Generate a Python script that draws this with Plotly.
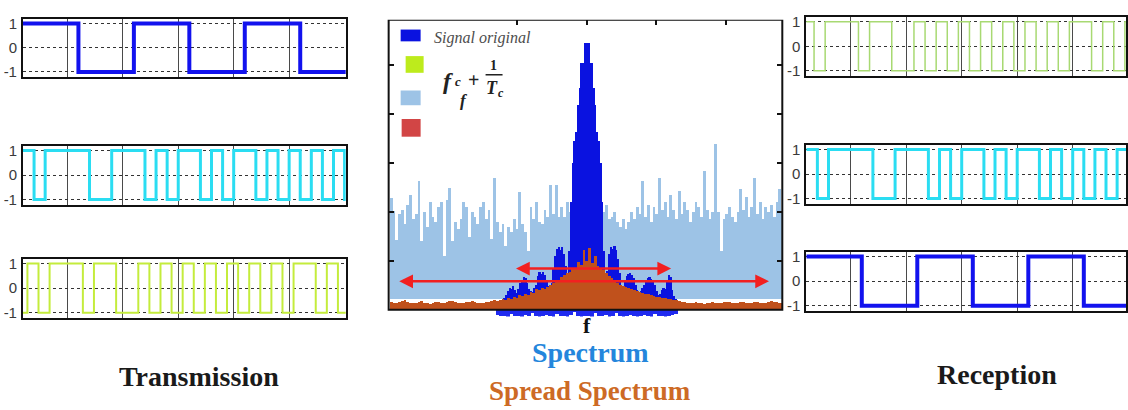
import plotly.graph_objects as go

W, H = 1128, 410

# ---------------- baseband / chip waveforms ----------------
data_bits = [1, -1, 1, -1, 1, -1]
pn_code = [1, -1, 1, 1, 1, 1, -1, -1, 1, 1, 1, -1, 1, -1, 1, 1, -1, 1, -1, 1,
           1, -1, 1, -1, 1, -1, 1, -1, 1, -1]
spread_chips = [1, -1, 1, 1, 1, -1, 1, 1, -1, -1, 1, -1, 1, -1, 1, -1, 1, -1, 1, -1,
                1, -1, 1, -1, 1, 1, -1, 1, -1, 1]
despread_bits = [1, -1, 1, -1, 1, -1]
level_ticks = [-1, 0, 1]
level_labels = ["-1", "0", "1"]
CHIPS_PER_BIT = 5
TX_DELAY = 0.4    # chip offset of the transmitted spread sequence
RX_DELAY = -0.3   # chip offset of the received spread sequence

# ---------------- spectra ----------------
# spread spectrum (light blue), bins of 0.04 starting at -2.8
spread_spec = [
    2.29, 2.03, 1.43, 1.95, 2.05, 1.75, 2.15, 2.35, 1.85, 1.95,
    2.63, 1.40, 2.00, 1.70, 2.20, 1.90, 1.80, 2.10, 2.20, 1.10,
    2.25, 2.49, 1.40, 1.80, 1.65, 1.85, 2.20, 2.10, 1.50, 2.00,
    1.90, 1.75, 2.10, 2.20, 1.85, 2.05, 1.45, 2.69, 1.80, 1.60,
    1.75, 1.30, 1.70, 1.60, 1.85, 1.65, 2.40, 1.75, 1.60, 1.20,
    2.10, 1.85, 2.20, 1.80, 1.75, 2.05, 1.90, 2.55, 1.95, 2.55,
    1.90, 2.10, 1.90, 2.20, 2.00, 1.80, 2.10, 2.00, 1.90, 2.20,
    2.00, 1.90, 2.10, 2.00, 2.30, 1.90, 2.00, 2.15, 1.85, 1.90,
    2.00, 1.80, 1.70, 1.85, 1.65, 1.80, 2.00, 1.85, 2.10, 1.95,
    2.63, 1.90, 2.15, 1.80, 2.10, 1.95, 2.70, 2.05, 2.20, 1.90,
    2.35, 2.05, 1.85, 2.43, 1.95, 2.20, 2.05, 1.80, 2.00, 2.20,
    2.10, 1.90, 2.83, 2.05, 1.85, 2.00, 3.39, 2.00, 1.20, 1.85,
    1.95, 2.10, 1.90, 1.80, 2.00, 2.47, 2.05, 2.30, 1.90, 2.10,
    2.69, 1.95, 2.20, 1.85, 2.10, 2.00, 2.15, 1.90, 2.20, 2.47, 2.00,
]
SPREAD_F0, SPREAD_DF, SPREAD_FLOOR = -2.8, 0.04, 0.22

# received mound (orange), same bins as spread_spec
mound_spec = [
    0.16, 0.15, 0.14, 0.17, 0.19, 0.20, 0.17, 0.15, 0.14, 0.15,
    0.16, 0.18, 0.15, 0.14, 0.13, 0.15, 0.17, 0.16, 0.15, 0.14,
    0.16, 0.18, 0.19, 0.17, 0.15, 0.14, 0.14, 0.16, 0.17, 0.18,
    0.16, 0.15, 0.14, 0.15, 0.17, 0.16, 0.18, 0.20, 0.19, 0.21,
    0.22, 0.21, 0.24, 0.23, 0.26, 0.25, 0.30, 0.28, 0.33, 0.31,
    0.37, 0.35, 0.42, 0.40, 0.45, 0.43, 0.47, 0.52, 0.55, 0.58,
    0.62, 0.68, 0.72, 0.75, 0.78, 0.84, 0.85, 0.98, 0.92, 1.22,
    1.00, 1.27, 0.95, 1.10, 0.90, 0.86, 0.82, 0.76, 0.70, 0.66,
    0.62, 0.56, 0.52, 0.49, 0.46, 0.44, 0.42, 0.40, 0.38, 0.36,
    0.35, 0.33, 0.32, 0.30, 0.28, 0.27, 0.26, 0.25, 0.24, 0.23,
    0.22, 0.21, 0.20, 0.18, 0.17, 0.16, 0.15, 0.14, 0.15, 0.16,
    0.15, 0.14, 0.13, 0.14, 0.15, 0.16, 0.15, 0.14, 0.15, 0.16,
    0.17, 0.16, 0.15, 0.14, 0.15, 0.17, 0.16, 0.15, 0.14, 0.15,
    0.16, 0.17, 0.15, 0.14, 0.15, 0.16, 0.18, 0.17, 0.16, 0.15, 0.14,
]

# original signal spectrum (dark blue), bins of 0.025 starting at -1.3
signal_spec = [
    0.15, 0.18, 0.16, 0.20, 0.22, 0.25, 0.30, 0.38, 0.45, 0.42, 0.48, 0.40,
    0.35, 0.42, 0.55, 0.62, 0.68, 0.66, 0.55, 0.42,
    0.38, 0.36, 0.45, 0.52, 0.70, 0.78, 0.74, 0.78, 0.72, 0.60, 0.48, 0.40,
    0.55, 0.85, 1.10, 1.25, 1.29, 1.22, 1.28, 1.15, 0.90, 0.62,
    1.20, 2.20, 3.00, 3.45, 3.63, 4.18, 4.54, 5.04, 5.04, 5.46,
    5.46,
    5.46, 5.04, 5.04, 4.54, 4.18, 3.63, 3.45, 3.00, 2.20, 1.20,
    0.58, 0.80, 1.15, 1.29, 1.25, 1.30, 1.22, 1.05, 0.75, 0.45,
    0.42, 0.58, 0.70, 0.74, 0.76, 0.72, 0.65, 0.50, 0.40, 0.36,
    0.38, 0.45, 0.50, 0.60, 0.66, 0.68, 0.64, 0.62, 0.50, 0.38,
    0.30, 0.32, 0.40, 0.45, 0.42, 0.62, 0.72, 0.68, 0.40, 0.28, 0.22, 0.18,
]
SIGNAL_F0, SIGNAL_DF = -1.3, 0.025

# ragged part of the original spectrum under the baseline, bins of 0.05
signal_under = [
    -0.10, -0.13, -0.12, -0.14, -0.09, -0.13, -0.12, -0.14, -0.11, -0.13,
    -0.06, -0.12, -0.14, -0.13, -0.10, -0.12, -0.14, -0.08, -0.13, -0.12,
    -0.14, -0.11, -0.05, -0.13, -0.14, -0.12, -0.13, -0.14, -0.07, -0.12,
    -0.13, -0.11, -0.14, -0.12, -0.06, -0.13, -0.14, -0.12, -0.10, -0.13,
    -0.14, -0.12, -0.11, -0.13, -0.14, -0.09, -0.12, -0.13, -0.14, -0.12,
    -0.10, -0.08,
]
UNDER_F0, UNDER_DF = -1.275, 0.05

# bandwidth markers: (left edge, right edge, level)
band_spread = (-2.7, 2.61, 0.58)
band_signal = (-1.03, 1.21, 0.84)


def px(x):
    return x / W


def py(y):
    return 1 - y / H


def steps(levels, width, offset=0.0, lead=None):
    xs = [offset + k * width for k in range(len(levels) + 1)]
    ys = list(levels) + [levels[-1]]
    if lead is not None:
        xs = [0.0] + xs
        ys = [lead] + ys
    return xs, ys


fig = go.Figure()

# ---------------- waveform panels ----------------
panels = [
    # (axis id, x pixel span, y pixel span, x range, waveform, colour, width)
    (1, (23, 346), (15, 74), 29.1, steps(data_bits, CHIPS_PER_BIT), "#1212EE", 4),
    (2, (23, 346), (144, 204), 29.1, steps(pn_code, 1), "#2ADDF2", 3),
    (3, (23, 346), (259, 319), 29.1, steps(spread_chips, 1, TX_DELAY, lead=-1), "#C4EC3C", 2),
    (4, (807, 1127), (13, 73), 28.8, steps(spread_chips, 1, RX_DELAY), "#A8D972", 1.5),
    (5, (807, 1127), (143, 203), 28.8, steps(pn_code, 1), "#2ADDF2", 3),
    (6, (807, 1127), (252, 312), 28.8, steps(despread_bits, CHIPS_PER_BIT), "#1212EE", 4),
]

grid_chips = [4, 9, 14, 19, 24]

for ax_id, (x0, x1), (y0, y1), xmax, (xs, ys), colour, lw in panels:
    sfx = "" if ax_id == 1 else str(ax_id)
    fig.add_trace(go.Scatter(
        x=xs, y=ys, mode="lines", line=dict(color=colour, width=lw, shape="hv"),
        xaxis="x" + sfx, yaxis="y" + sfx, hoverinfo="skip"))
    fig.layout["xaxis" + sfx] = dict(
        domain=[px(x0), px(x1)], anchor="y" + sfx, range=[0, xmax],
        tickvals=grid_chips, showticklabels=False, ticks="",
        showgrid=True, gridcolor="#4a4a4a", gridwidth=1, zeroline=False,
        showline=True, mirror=True, linecolor="#111", linewidth=2)
    fig.layout["yaxis" + sfx] = dict(
        domain=[py(y1), py(y0)], anchor="x" + sfx, range=[-1.2, 1.2],
        tickvals=level_ticks, ticktext=level_labels, ticks="",
        tickfont=dict(family="Liberation Sans", size=15, color="#3a3a3a"),
        ticklabelstandoff=1,
        showgrid=True, gridcolor="#333", gridwidth=1, griddash="dot",
        zeroline=False, showline=True, mirror=True, linecolor="#111", linewidth=2)

# ---------------- spectrum panel ----------------
CX, CY = "x7", "y7"
fig.add_trace(go.Bar(
    x0=SPREAD_F0, dx=SPREAD_DF, y=[v - SPREAD_FLOOR for v in spread_spec], base=SPREAD_FLOOR,
    width=SPREAD_DF, marker=dict(color="#9DC3E6", line=dict(width=0)),
    xaxis=CX, yaxis=CY, hoverinfo="skip"))
fig.add_trace(go.Bar(
    x0=SIGNAL_F0, dx=SIGNAL_DF, y=signal_spec, width=SIGNAL_DF,
    marker=dict(color="#0A12E0", line=dict(width=0)),
    xaxis=CX, yaxis=CY, hoverinfo="skip"))
fig.add_trace(go.Bar(
    x0=UNDER_F0, dx=UNDER_DF, y=signal_under, width=UNDER_DF,
    marker=dict(color="#1F2AF0", line=dict(width=0)),
    xaxis=CX, yaxis=CY, hoverinfo="skip"))
fig.add_trace(go.Bar(
    x0=SPREAD_F0, dx=SPREAD_DF, y=mound_spec, width=SPREAD_DF,
    marker=dict(color="#C0511C", line=dict(width=0)),
    xaxis=CX, yaxis=CY, hoverinfo="skip"))

Y_TOP = 5.92
fig.layout["xaxis7"] = dict(
    domain=[px(389), px(783)], anchor=CY, range=[-2.83, 2.8], side="top",
    tickvals=[-1, 0, 1, 2], showticklabels=False, ticks="inside", ticklen=5,
    tickwidth=1.5, tickcolor="#111", showgrid=False, zeroline=False, showline=False)
fig.layout["yaxis7"] = dict(
    domain=[py(318), py(16)], anchor=CX, range=[-0.14, Y_TOP],
    tickvals=[1, 2, 3, 4, 5], showticklabels=False, ticks="inside", ticklen=5,
    tickwidth=1.5, tickcolor="#111", mirror="ticks", showgrid=False,
    zeroline=False, showline=False)

shapes = [dict(type="rect", xref="x7 domain", yref=CY, x0=0, x1=1, y0=0, y1=Y_TOP,
               line=dict(color="#111", width=2), layer="above")]

annotations = []
for left, right, lvl in (band_spread, band_signal):
    annotations.append(dict(
        xref=CX, yref=CY, axref=CX, ayref=CY, x=right, y=lvl, ax=left, ay=lvl,
        text="", showarrow=True, arrowside="end+start", arrowhead=2,
        arrowsize=1.1, arrowwidth=2.5, arrowcolor="#F22020", standoff=0, startstandoff=0))

# legend swatches
for (x0, y0, x1, y1), col in [((401, 26, 421, 38), "#0A12E0"),
                               ((406, 53, 424, 70), "#BDEB1C"),
                               ((401, 88, 421, 103), "#9DC3E6"),
                               ((402, 117, 421, 135), "#D24545")]:
    shapes.append(dict(type="rect", xref="paper", yref="paper",
                       x0=px(x0), x1=px(x1), y0=py(y1), y1=py(y0),
                       fillcolor=col, line=dict(width=0), layer="above"))

# fraction bar of 1/Tc
shapes.append(dict(type="line", xref="paper", yref="paper", x0=px(486), x1=px(503),
                   y0=py(72), y1=py(72), line=dict(color="#222", width=1.5), layer="above"))


def label(text, x, y, size, color="#222", family="Liberation Serif", xanchor="center"):
    annotations.append(dict(xref="paper", yref="paper", x=px(x), y=py(y), text=text,
                            showarrow=False, xanchor=xanchor, yanchor="middle",
                            font=dict(family=family, size=size, color=color)))


label("<i>Signal original</i>", 432, 35, 16, color="#4d4d4d", xanchor="left")
label("<b><i>f</i></b>", 448, 78, 24)
label("<b><i>c</i></b>", 458, 79, 13)
label("<b>+</b>", 474, 77, 20)
label("<b>1</b>", 494, 63, 14)
label("<b><i>T</i></b>", 492, 85, 18)
label("<b><i>c</i></b>", 501, 91, 12)
label("<b><i>f</i></b>", 464, 98, 17)

label("<b>f</b>", 588, 327, 22, color="#111")
label("<b>Spectrum</b>", 591, 355, 28, color="#2486DC")
label("<b>Spread Spectrum</b>", 591, 394, 27, color="#CD6A25")
label("<b>Transmission</b>", 199, 379, 28, color="#1a1a1a")
label("<b>Reception</b>", 998, 377, 28, color="#1a1a1a")

fig.update_layout(
    width=W, height=H, margin=dict(l=0, r=0, t=0, b=0),
    paper_bgcolor="white", plot_bgcolor="white",
    showlegend=False, barmode="overlay", bargap=0,
    shapes=shapes, annotations=annotations,
)

fig.write_html("out.html")
